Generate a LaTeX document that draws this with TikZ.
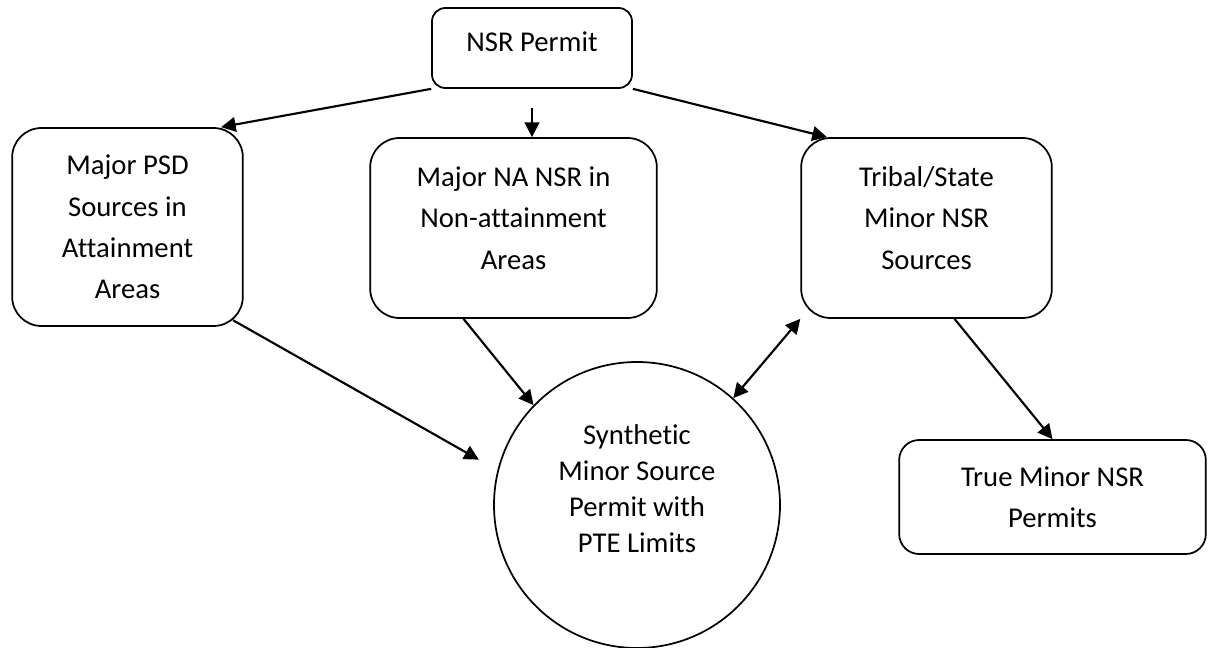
\documentclass[tikz,border=0pt]{standalone}
\usepackage{fontspec}
\setmainfont{Carlito}[Ligatures=CommonOff]
\usetikzlibrary{arrows.meta}

\tikzset{
  box/.style={draw, line width=1.3pt, rounded corners=22pt, align=center,
    font=\fontsize{21.5}{31}\selectfont},
  disc/.style={draw, circle, line width=1.3pt, align=center,
    font=\fontsize{21.5}{27}\selectfont},
  link/.style={line width=1.6pt, >={Triangle[length=11pt,width=11pt]}, ->},
}

\begin{document}
\begin{tikzpicture}[x=0.75pt,y=-0.75pt]
  \useasboundingbox (0,0) rectangle (1209,648);

  \node[box, rounded corners=10pt, minimum width=150pt, minimum height=60pt, text depth=9pt] (permit) at (532,48) {NSR Permit};
  \node[box, minimum width=173pt, minimum height=148.5pt] (psd) at (127.5,227) {Major PSD\\Sources in\\Attainment\\Areas};
  \node[box, minimum width=215pt, minimum height=135pt, text depth=15pt] (na) at (513.5,228) {Major NA NSR in\\Non-attainment\\Areas};
  \node[box, minimum width=188pt, minimum height=135pt, text depth=15pt] (tribal) at (926.5,228) {Tribal/State\\Minor NSR\\Sources};
  \node[box, rounded corners=15pt, minimum width=230pt, minimum height=85.5pt] (trueminor) at (1052.5,497) {True Minor NSR\\Permits};
  \node[disc, minimum size=214.5pt, text depth=25pt] (synth) at (637,505) {Synthetic\\Minor Source\\Permit with\\PTE Limits};

  % connectors
  \draw[link] (permit.south west) -- ([xshift=-17pt]psd.north east);
  \draw[link] ([yshift=-14pt]permit.south) -- (permit.south |- na.north);
  \draw[link] (permit.south east) -- ([xshift=20pt]tribal.north west);
  \draw[link, shorten >=16pt] ([shift={(-8pt,5pt)}]psd.south east) -- (synth.166);
  \draw[link] ([xshift=-37.5pt]na.south) -- (synth.136);
  \draw[link, <->] (synth.48) -- (tribal.south west);
  \draw[link] ([xshift=21pt]tribal.south) -- (trueminor.north);
\end{tikzpicture}
\end{document}
